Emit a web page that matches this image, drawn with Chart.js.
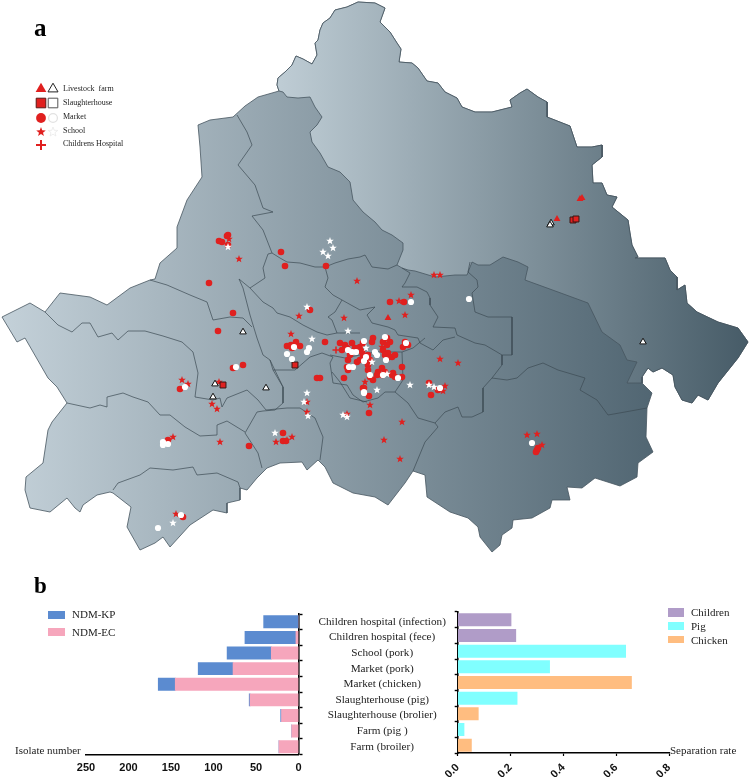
<!DOCTYPE html>
<html>
<head>
<meta charset="utf-8">
<script src="https://cdn.jsdelivr.net/npm/chart.js@4"></script>
<style>
  html, body { margin: 0; padding: 0; background: #fff; }
  #page { position: relative; width: 750px; height: 777px; overflow: hidden; font-family: "Liberation Serif", serif; color: #222; }
  canvas { position: absolute; display: block; }
  .txt { position: absolute; white-space: pre; line-height: 1; transform: translateY(-50%); }
  .panel { position: absolute; font-weight: bold; line-height: 1; color: #000; }
  .sw { position: absolute; }
</style>
</head>
<body>
<div id="page">
  <canvas id="mapChart" width="750" height="570" style="left:0;top:0"></canvas>
  <canvas id="isolateChart" width="450" height="177" style="left:0;top:600px"></canvas>
  <canvas id="rateChart" width="330" height="177" style="left:420px;top:600px"></canvas>

  <div class="panel" style="left:34px;top:15px;font-size:25px">a</div>
  <div class="panel" style="left:34px;top:574px;font-size:23px">b</div>

  <div class="txt" style="left:63px;top:89px;font-size:8px">Livestock  farm</div>
  <div class="txt" style="left:63px;top:103px;font-size:8px">Slaughterhouse</div>
  <div class="txt" style="left:63px;top:117px;font-size:8px">Market</div>
  <div class="txt" style="left:63px;top:131px;font-size:8px">School</div>
  <div class="txt" style="left:63px;top:144px;font-size:8px">Childrens Hospital</div>

  <div class="sw" style="left:48px;top:611px;width:17px;height:8px;background:#5b8bd0"></div>
  <div class="txt" style="left:72px;top:614px;font-size:11px">NDM-KP</div>
  <div class="sw" style="left:48px;top:628px;width:17px;height:8px;background:#f6a6bc"></div>
  <div class="txt" style="left:72px;top:632px;font-size:11px">NDM-EC</div>

  <div class="sw" style="left:668px;top:608px;width:16px;height:9px;background:#b09cc8"></div>
  <div class="txt" style="left:691px;top:612px;font-size:11px">Children</div>
  <div class="sw" style="left:668px;top:622px;width:16px;height:8px;background:#80ffff"></div>
  <div class="txt" style="left:691px;top:626px;font-size:11px">Pig</div>
  <div class="sw" style="left:668px;top:636px;width:16px;height:7px;background:#ffbd80"></div>
  <div class="txt" style="left:691px;top:640px;font-size:11px">Chicken</div>

  <div class="txt" style="left:15px;top:750px;font-size:11px">Isolate number</div>
  <div class="txt" style="left:670px;top:750px;font-size:11px">Separation rate</div>
</div>

<script>
// bar data
const sites = ['Children hospital (infection)', 'Children hospital (fece)', 'School (pork)', 'Market (pork)',
  'Market (chicken)', 'Slaughterhouse (pig)', 'Slaughterhouse (brolier)', 'Farm (pig )', 'Farm (broiler)'];
const ndmEC = [0, 3, 32, 77, 145, 57, 20, 8, 23];
const ndmKP = [41, 60, 52, 41, 20, 1, 1, 0, 0];
const separationRate = [0.202, 0.22, 0.636, 0.348, 0.658, 0.225, 0.078, 0.024, 0.052];
const sourceGroup = ['Children', 'Children', 'Pig', 'Pig', 'Chicken', 'Pig', 'Chicken', 'Pig', 'Chicken'];
const isolateTicks = [0, 50, 100, 150, 200, 250];
const rateTicks = [0, 0.2, 0.4, 0.6, 0.8];

// map outline
const westEdge = [[279,91],[258,97],[245,106],[233,117],[210,120],[198,125],[200,147],[202,177],[187,200],[177,227],[177,248],[160,263],[155,279],[150,280],[130,288],[107,305],[90,297],[60,293],[45,312],[30,303],[2,317],[17,342],[25,338],[48,378],[57,387],[67,403],[52,422],[48,430],[43,463],[26,477],[25,490],[30,508],[50,512],[67,498],[75,508],[80,512],[83,505],[97,495],[110,492],[113,493],[131,507],[127,527],[140,550],[155,543],[163,537],[170,547],[190,525],[213,510],[227,513],[227,503],[240,500],[240,488],[247,490],[257,478],[267,468],[280,463],[302,462],[307,470],[318,460],[325,467],[333,483],[353,493],[375,497],[388,505],[405,483],[413,471],[425,475],[427,497],[450,512],[468,518],[478,527],[480,537],[488,547],[492,552],[500,545],[502,535],[512,528],[513,520],[532,518],[550,508],[552,500],[570,500],[567,487],[582,488],[595,478],[620,486],[637,477],[638,463],[653,452],[646,437],[647,408],[652,393],[642,383]];
const northEdge = [[279,91],[277,85],[278,78],[285,72],[292,65],[296,56],[303,59],[312,64],[317,55],[315,43],[318,40],[320,30],[323,23],[330,18],[335,10],[347,7],[358,2],[375,3],[385,8],[380,22],[390,32],[397,43],[401,49],[399,62],[412,63],[418,68],[427,81],[438,83],[445,92],[457,98],[462,107],[475,112],[492,112],[512,107],[510,100],[520,93],[527,89],[538,97],[547,102],[547,117],[570,126],[577,147],[592,147],[602,145],[602,157],[592,165],[593,183],[602,183],[607,195],[617,197],[612,207],[628,220],[630,233],[632,245],[638,257],[635,258],[665,258],[670,270],[677,277],[677,290],[685,285],[687,303],[697,312],[718,322],[738,328],[748,342],[738,358],[718,383],[708,400],[698,395],[692,403],[682,400],[675,387],[673,375],[662,368],[653,372],[648,368],[642,377],[642,383]];
const northEastBottom = [[642,383],[627,383],[637,362],[627,360],[620,345],[602,332],[588,303],[558,292],[525,280],[528,267],[518,262],[503,257],[490,265],[478,265],[472,262],[467,275],[455,275],[435,277],[415,271],[408,270],[402,268],[397,265],[403,250],[403,243],[392,235],[382,230],[375,222],[363,212],[353,200],[350,182],[340,172],[328,167],[320,153],[312,142],[310,132],[317,125],[322,117],[315,107],[310,97],[298,98],[287,97],[283,92],[279,91]];

// county borders inside the map
const borderLines = [
  [[237,115],[247,132],[252,145],[238,165],[255,185],[263,208],[273,212],[252,216],[263,230],[272,253],[280,258],[287,262],[300,263],[315,267],[325,267],[335,263],[348,259],[360,257],[365,255],[372,267],[388,269],[397,265]],
  [[272,253],[268,254],[263,268],[265,278],[250,288],[239,279],[243,288],[250,315],[257,338],[263,355],[270,360],[283,387],[283,403],[275,410],[263,411],[257,412],[245,433],[258,453],[262,468]],
  [[250,288],[263,302],[273,308],[277,313],[290,317],[303,325],[317,332],[327,335],[337,333],[350,333],[360,333]],
  [[325,267],[328,278],[325,287],[333,295],[342,300],[335,312],[328,317],[332,320],[337,333]],
  [[342,300],[360,310],[375,307],[367,315],[372,323],[388,327],[395,330],[398,335],[418,338],[420,343],[433,350],[443,340],[455,337]],
  [[45,312],[58,325],[72,332],[82,323],[90,323],[98,337],[112,333],[118,340],[128,331],[145,331],[163,336],[182,342],[193,352],[198,373],[195,397],[213,400],[220,398],[222,407],[227,398],[247,390],[258,400],[266,410]],
  [[67,403],[90,408],[100,405],[107,407],[107,397],[123,393],[133,397],[148,402],[160,415],[170,415],[185,427],[200,436],[217,435],[217,425],[227,421],[245,432]],
  [[113,490],[118,483],[140,475],[150,468],[173,470],[193,467],[197,475],[217,473],[238,482],[240,488]],
  [[266,410],[287,408],[300,408],[315,418],[323,437],[320,460]],
  [[150,280],[167,285],[190,295],[207,302],[213,320],[230,317],[243,318],[252,327]],
  [[273,370],[295,370],[310,357],[322,353],[333,357],[330,363],[333,383],[347,385],[353,395],[363,402],[378,398],[385,392],[395,392]],
  [[270,360],[273,370],[283,387]],
  [[330,355],[345,358],[375,352],[402,352]],
  [[332,372],[340,382],[350,398],[367,402]],
  [[402,268],[410,273],[405,283],[402,287],[417,287],[427,292],[430,298],[430,305],[438,317],[433,327],[455,328],[457,335],[475,343],[485,345],[497,352],[502,355],[502,365],[492,378],[483,388],[483,412],[472,417],[462,417],[458,407],[445,412],[435,423],[438,427],[425,442],[413,471]],
  [[470,262],[468,272],[477,280],[478,287],[472,293],[475,312],[488,317],[502,317],[512,317],[512,338],[512,355],[502,355]],
  [[492,378],[507,380],[517,378],[528,368],[543,363],[558,370],[585,378],[580,390],[597,400],[608,415],[625,412],[647,408]],
  [[402,352],[413,348],[425,338]],
  [[402,352],[403,380],[395,392],[408,403],[418,418],[435,423]]
];

// sampling sites
const marketRed = [[219,241],[222,242],[227,236],[228,235],[228,245],[281,252],[285,266],[326,266],[209,283],[233,313],[218,331],[243,365],[233,368],[180,389],[168,440],[183,517],[283,433],[283,441],[286,441],[249,446],[369,413],[369,396],[364,388],[317,378],[320,378],[344,378],[287,346],[291,345],[296,342],[300,346],[292,348],[310,310],[390,302],[404,302],[429,383],[438,390],[431,395],[537,450],[536,452],[538,448],[340,343],[345,345],[342,350],[347,348],[352,343],[355,348],[360,347],[363,343],[362,352],[353,352],[348,360],[350,355],[357,362],[360,360],[363,357],[368,355],[370,360],[373,338],[372,342],[383,342],[387,338],[390,342],[387,345],[383,350],[388,353],[385,355],[392,357],[395,355],[387,358],[405,342],[408,345],[403,347],[402,367],[347,367],[348,370],[368,365],[368,370],[370,377],[373,380],[378,372],[382,368],[377,375],[382,375],[385,372],[392,375],[393,373],[395,377],[402,377],[363,388],[325,342]];
const marketWhite = [[236,367],[185,387],[163,442],[163,445],[168,444],[181,515],[158,528],[294,347],[287,354],[292,359],[307,352],[309,348],[364,393],[411,302],[469,299],[440,388],[532,443],[348,350],[352,352],[356,352],[364,341],[366,357],[364,361],[375,352],[377,355],[385,337],[386,360],[406,343],[349,367],[353,367],[370,375],[383,375],[398,378],[364,392]];
const schoolRed = [[229,239],[239,259],[182,380],[188,384],[219,382],[212,404],[217,409],[173,437],[220,442],[176,514],[292,437],[276,442],[287,440],[307,412],[307,402],[347,414],[370,405],[291,334],[299,316],[344,318],[357,281],[399,301],[411,295],[405,315],[440,359],[458,363],[445,386],[443,391],[402,422],[384,440],[400,459],[527,435],[537,434],[542,445],[382,347],[365,382],[434,275],[440,275]];
const schoolWhite = [[228,247],[330,241],[333,248],[323,252],[328,256],[173,523],[275,433],[308,416],[307,393],[304,402],[343,415],[347,417],[312,339],[348,331],[307,307],[410,385],[429,385],[434,387],[387,374],[372,362],[366,348],[377,390]];
const farmRed = [[580,199],[582,198],[557,219],[388,318]];
const farmWhite = [[243,332],[215,384],[213,397],[266,388],[551,223],[550,225],[643,342]];
const slaughterRed = [[223,385],[295,365],[573,220],[576,219]];
const hospitalRed = [[336,350]];

// legend keys of panel a
const keyFarm = [[41,89]], keyFarmOpen = [[53,89]];
const keySlaughter = [[41,103]], keySlaughterOpen = [[53,103]];
const keyMarket = [[41,118]], keyMarketOpen = [[53,118]];
const keySchool = [[41,132]], keySchoolOpen = [[53,132]];
const keyHospital = [[41,145]];

const RED = '#e0201f';
const groupColor = { Children: '#b09cc8', Pig: '#80ffff', Chicken: '#ffbd80' };

function toXY(list) {
  return list.map(p => ({ x: p[0], y: p[1] }));
}

// Chart.js has no filled five point star, so make one as a small canvas
function makeStar(size, fill, stroke) {
  const c = document.createElement('canvas');
  c.width = c.height = size + 2;
  const g = c.getContext('2d');
  const mid = c.width / 2, R = size / 2, r = R * 0.42;
  g.beginPath();
  for (let i = 0; i < 10; i++) {
    const a = -Math.PI / 2 + i * Math.PI / 5;
    const d = i % 2 ? r : R;
    g.lineTo(mid + d * Math.cos(a), mid + d * Math.sin(a));
  }
  g.closePath();
  g.fillStyle = fill;
  g.fill();
  if (stroke) {
    g.strokeStyle = stroke;
    g.lineWidth = 0.7;
    g.stroke();
  }
  return c;
}

function points(list, style, radius, fill, border, borderWidth, order) {
  return {
    data: toXY(list),
    showLine: false,
    pointStyle: style,
    pointRadius: radius,
    pointBackgroundColor: fill,
    pointBorderColor: border,
    pointBorderWidth: borderWidth,
    order: order
  };
}

function area(list, fillStyle, order) {
  return {
    data: toXY(list),
    showLine: true,
    fill: 'shape',
    tension: 0,
    backgroundColor: fillStyle,
    borderColor: '#46555f',
    borderWidth: 0.8,
    pointRadius: 0,
    order: order
  };
}

function initMap() {
  const ctx = document.getElementById('mapChart').getContext('2d');

  const wholeFill = ctx.createLinearGradient(0, 0, 750, 0);
  wholeFill.addColorStop(0, '#c4d1d9');
  wholeFill.addColorStop(1, '#405663');
  const northEastFill = ctx.createLinearGradient(277, 0, 750, 0);
  northEastFill.addColorStop(0, '#bfcdd5');
  northEastFill.addColorStop(1, '#465b67');

  const datasets = [
    area(northEdge.concat(westEdge.slice().reverse()), wholeFill, 30),
    area(northEdge.concat(northEastBottom), northEastFill, 29)
  ];
  borderLines.forEach(line => {
    datasets.push({
      data: toXY(line),
      showLine: true,
      fill: false,
      tension: 0,
      borderColor: '#3c4a53',
      borderWidth: 0.7,
      pointRadius: 0,
      order: 20
    });
  });

  const star = makeStar(8, RED);
  const whiteStar = makeStar(8, '#ffffff');
  datasets.push(
    points(schoolRed, star, 4, RED, RED, 0, 8),
    points(marketRed, 'circle', 3.3, RED, RED, 0, 7),
    points(hospitalRed, 'cross', 3.5, RED, RED, 1.5, 6),
    points(farmRed, 'triangle', 4, RED, RED, 0, 5),
    points(slaughterRed, 'rect', 4.2, RED, '#3a1512', 1, 4),
    points(marketWhite, 'circle', 3.1, '#ffffff', '#ffffff', 0, 3),
    points(schoolWhite, whiteStar, 4, '#fff', '#fff', 0, 2),
    points(farmWhite, 'triangle', 3.8, '#ffffff', '#111111', 1, 1),

    points(keyFarm, 'triangle', 6.2, RED, RED, 0, 0),
    points(keyFarmOpen, 'triangle', 5.8, '#ffffff', '#222222', 1, 0),
    points(keySlaughter, 'rect', 6.8, RED, '#5a1a18', 1, 0),
    points(keySlaughterOpen, 'rect', 6.8, '#ffffff', '#555555', 1, 0),
    points(keyMarket, 'circle', 4.9, RED, RED, 0, 0),
    points(keyMarketOpen, 'circle', 4.4, '#ffffff', '#e2e2e2', 1.3, 0),
    points(keySchool, makeStar(10, RED), 5, RED, RED, 0, 0),
    points(keySchoolOpen, makeStar(10, '#ffffff', '#e6e6e6'), 5, '#fff', '#fff', 0, 0),
    points(keyHospital, 'cross', 5, RED, RED, 2, 0)
  );

  new Chart(ctx, {
    type: 'scatter',
    data: { datasets: datasets },
    options: {
      responsive: false,
      animation: false,
      events: [],
      layout: { autoPadding: false },
      plugins: { legend: { display: false }, tooltip: { enabled: false } },
      scales: {
        x: { type: 'linear', display: false, min: 0, max: 750 },
        y: { type: 'linear', display: false, min: 0, max: 570, reverse: true }
      }
    }
  });
}

function initIsolates() {
  new Chart(document.getElementById('isolateChart'), {
    type: 'bar',
    data: {
      labels: sites,
      datasets: [
        { label: 'NDM-EC', data: ndmEC, backgroundColor: '#f6a6bc', barThickness: 12.3 },
        { label: 'NDM-KP', data: ndmKP, backgroundColor: '#5b8bd0', barThickness: 12.3 }
      ]
    },
    options: {
      indexAxis: 'y',
      responsive: false,
      animation: false,
      events: [],
      layout: { autoPadding: false, padding: { left: 86, top: 14, right: 0, bottom: 0 } },
      plugins: { legend: { display: false }, tooltip: { enabled: false } },
      scales: {
        x: {
          stacked: true,
          reverse: true,
          min: 0,
          max: 250,
          afterBuildTicks: axis => { axis.ticks = isolateTicks.map(v => ({ value: v })); },
          afterFit: axis => { axis.height = 22.5; axis.paddingLeft = 0; axis.paddingRight = 0; },
          grid: { display: false, drawTicks: false },
          border: { color: '#000', width: 1.6 },
          ticks: { color: '#111', padding: 7, maxRotation: 0, font: { family: 'Liberation Sans', size: 11, weight: 'bold' } }
        },
        y: {
          stacked: true,
          position: 'right',
          afterFit: axis => { axis.width = 151.5; axis.paddingTop = 0; axis.paddingBottom = 0; },
          grid: { drawOnChartArea: false, drawTicks: true, tickLength: 4, tickColor: '#000', tickWidth: 1.4 },
          border: { color: '#000', width: 1.6 },
          ticks: { color: '#222', padding: 16, crossAlign: 'center', autoSkip: false, font: { family: 'Liberation Serif', size: 11.2 } }
        }
      }
    }
  });
}

function initRates() {
  new Chart(document.getElementById('rateChart'), {
    type: 'bar',
    data: {
      labels: sites,
      datasets: [{
        label: 'Separation rate',
        data: separationRate,
        backgroundColor: sourceGroup.map(g => groupColor[g]),
        barThickness: 12.3
      }]
    },
    options: {
      indexAxis: 'y',
      responsive: false,
      animation: false,
      events: [],
      layout: { autoPadding: false, padding: { left: 37.7, top: 12, right: 81, bottom: 0 } },
      plugins: { legend: { display: false }, tooltip: { enabled: false } },
      scales: {
        x: {
          min: 0,
          max: 0.8,
          afterBuildTicks: axis => { axis.ticks = rateTicks.map(v => ({ value: v })); },
          afterFit: axis => { axis.height = 24; axis.paddingLeft = 0; axis.paddingRight = 0; },
          grid: { drawOnChartArea: false, drawTicks: true, tickLength: 3, tickColor: '#000', tickWidth: 1.2 },
          border: { color: '#000', width: 1.6 },
          ticks: {
            color: '#111',
            padding: 5,
            minRotation: 45,
            maxRotation: 45,
            callback: v => v.toFixed(1),
            font: { family: 'Liberation Sans', size: 11, weight: 'bold' }
          }
        },
        y: {
          afterFit: axis => { axis.width = 0; axis.paddingTop = 0; axis.paddingBottom = 0; },
          grid: { drawOnChartArea: false, drawTicks: true, tickLength: 3, tickColor: '#000', tickWidth: 1.4 },
          border: { color: '#000', width: 1.6 },
          ticks: { display: false }
        }
      }
    }
  });
}

initMap();
initIsolates();
initRates();
</script>
</body>
</html>
